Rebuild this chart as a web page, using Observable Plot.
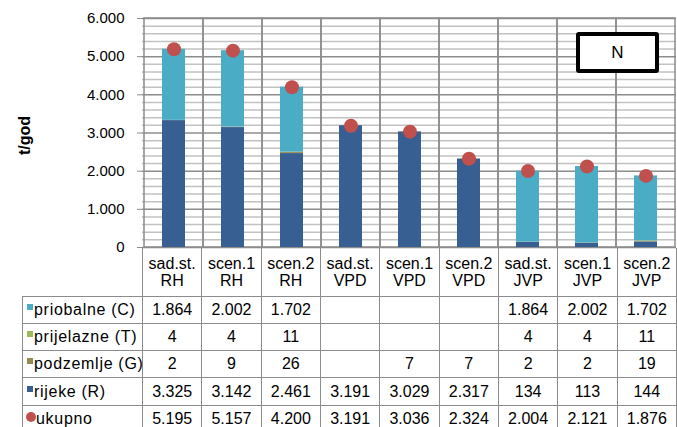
<!DOCTYPE html>
<html>
<head>
<meta charset="utf-8">
<script src="https://cdn.jsdelivr.net/npm/d3@7"></script>
<script src="https://cdn.jsdelivr.net/npm/@observablehq/plot@0.6"></script>
<style>
html, body { margin: 0; padding: 0; overflow: hidden; background: #fff; }
#wrap { position: relative; width: 677px; height: 427px; font-family: "Liberation Sans", Arial, sans-serif; color: #000; }
#wrap svg { position: absolute; left: 0; top: 0; display: block; overflow: visible; z-index: 2; }
#nbox { position: absolute; left: 576px; top: 32px; width: 75px; height: 33px; border: 4px solid #000; border-radius: 3px; background: #fff; font-size: 17px; display: flex; align-items: center; justify-content: center; z-index: 3; }
#tbl { position: absolute; left: 22px; top: 248px; border-collapse: collapse; table-layout: fixed; width: 654px; font-size: 16px; z-index: 1; }
#tbl td { border: 1.5px solid #8c8c8c; text-align: center; padding: 0; vertical-align: middle; white-space: nowrap; }
#tbl tr.head td { border-top: none; line-height: 17px; }
#tbl tr.head td.corner { border-left: none; }
#tbl tr.head { height: 48px; }
#tbl tr.row { height: 27.3px; }
#tbl td.lab { text-align: left; font-size: 16px; letter-spacing: 0.7px; padding-left: 4px; }
.sq { display: inline-block; width: 6px; height: 6px; position: relative; top: -5px; margin-right: 1px; }
.ci { display: inline-block; width: 10px; height: 10px; border-radius: 50%; position: relative; top: -2px; margin-left: -1px; }
</style>
</head>
<body>
<div id="wrap"></div>
<script>
// ---- data ----
const catTop = ["sad.st.", "scen.1", "scen.2", "sad.st.", "scen.1", "scen.2", "sad.st.", "scen.1", "scen.2"];
const catBottom = ["RH", "RH", "RH", "VPD", "VPD", "VPD", "JVP", "JVP", "JVP"];
const priobalne = [1864, 2002, 1702, null, null, null, 1864, 2002, 1702];
const prijelazne = [4, 4, 11, null, null, null, 4, 4, 11];
const podzemlje = [2, 9, 26, null, 7, 7, 2, 2, 19];
const rijeke = [3325, 3142, 2461, 3191, 3029, 2317, 134, 113, 144];
const ukupno = [5195, 5157, 4200, 3191, 3036, 2324, 2004, 2121, 1876];
const seriesNames = ["priobalne (C)", "prijelazne (T)", "podzemlje (G)", "rijeke (R)"];
const seriesColors = ["#4BACC6", "#9BBB59", "#948A54", "#375F91"];
const totalName = "ukupno";
const totalColor = "#C0504D";
const yTicks = [0, 1000, 2000, 3000, 4000, 5000, 6000];
const yMinor = [200, 400, 600, 800, 1200, 1400, 1600, 1800, 2200, 2400, 2600, 2800, 3200, 3400, 3600, 3800, 4200, 4400, 4600, 4800, 5200, 5400, 5600, 5800];
const yLabel = "t/god";
const boxLabel = "N";

// ---- build ----
const categories = catTop.map((t, i) => t + " " + catBottom[i]);
const seriesValues = [priobalne, prijelazne, podzemlje, rijeke];
const fmt = d3.formatLocale({decimal: ",", thousands: ".", grouping: [3], currency: ["", ""]}).format(",d");

// stack bottom-up: rijeke, podzemlje, prijelazne, priobalne
const stacked = [];
for (let s = seriesNames.length - 1; s >= 0; s--) {
  categories.forEach((c, i) => {
    const v = seriesValues[s][i];
    if (v != null) stacked.push({cat: c, series: seriesNames[s], value: v});
  });
}
const totals = categories.map((c, i) => ({cat: c, value: ukupno[i]}));

const chart = Plot.plot({
  width: 677,
  height: 248,
  marginLeft: 142,
  marginRight: 1,
  marginTop: 18,
  marginBottom: 1,
  style: {fontFamily: "Liberation Sans, Arial, sans-serif", fontSize: "15px", color: "#000", background: "transparent", overflow: "visible"},
  x: {domain: categories, padding: 0, axis: null},
  y: {domain: [0, 6000], axis: null},
  color: {domain: seriesNames, range: seriesColors},
  marks: [
    Plot.ruleY(yMinor, {stroke: "#c2c2c2", strokeWidth: 1.5}),
    Plot.ruleY(yTicks, {stroke: "#8c8c8c", strokeWidth: 1.5}),
    Plot.barY(categories, {x: d => d, y1: 0, y2: 6000, fill: "none", stroke: "#8c8c8c", strokeWidth: 1.5}),
    Plot.axisY({ticks: yTicks, tickSize: 5, tickPadding: 13, tickFormat: fmt, stroke: "#8c8c8c", fill: "#000", fontSize: 15, label: null}),
    Plot.barY(stacked, {x: "cat", y: "value", fill: "series", insetLeft: 18, insetRight: 18}),
    Plot.dot(totals, {x: "cat", y: "value", r: 7, fill: totalColor}),
    Plot.text([yLabel], {frameAnchor: "left", textAnchor: "middle", dx: -118, dy: 2.5, rotate: -90, fontWeight: "bold", fontSize: 16, fill: "#000"})
  ]
});

const wrap = document.getElementById("wrap");
wrap.appendChild(chart);

// table
const tbl = document.createElement("table");
tbl.id = "tbl";
const colg = document.createElement("colgroup");
colg.innerHTML = `<col style="width:120px">` + categories.map(() => `<col style="width:59.33px">`).join("");
tbl.appendChild(colg);
const head = document.createElement("tr");
head.className = "head";
head.innerHTML = `<td class="corner"></td>` + catTop.map((t, i) => `<td>${t}<br>${catBottom[i]}</td>`).join("");
tbl.appendChild(head);
seriesNames.forEach((name, s) => {
  const tr = document.createElement("tr");
  tr.className = "row";
  tr.innerHTML = `<td class="lab"><span class="sq" style="background:${seriesColors[s]}"></span>${name}</td>` +
    seriesValues[s].map(v => `<td>${v == null ? "" : fmt(v)}</td>`).join("");
  tbl.appendChild(tr);
});
const trT = document.createElement("tr");
trT.className = "row";
trT.innerHTML = `<td class="lab"><span class="ci" style="background:${totalColor}"></span>${totalName}</td>` +
  ukupno.map(v => `<td>${fmt(v)}</td>`).join("");
tbl.appendChild(trT);
wrap.appendChild(tbl);

// N box
const nb = document.createElement("div");
nb.id = "nbox";
nb.textContent = boxLabel;
wrap.appendChild(nb);
</script>
</body>
</html>
